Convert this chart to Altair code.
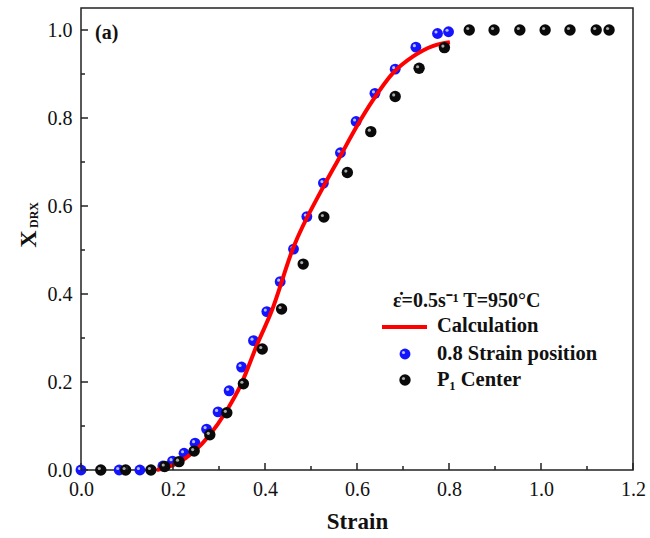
import altair as alt
import pandas as pd

# ---- data ----
blue_x = [0.0, 0.083, 0.128, 0.178, 0.199, 0.224, 0.248, 0.273, 0.298, 0.322, 0.349, 0.375,
          0.404, 0.433, 0.462, 0.491, 0.527, 0.564, 0.598, 0.639, 0.683, 0.728, 0.775, 0.799]
blue_y = [0.0, 0.0, 0.0, 0.009, 0.02, 0.038, 0.061, 0.093, 0.132, 0.18, 0.234, 0.294,
          0.36, 0.428, 0.502, 0.576, 0.652, 0.721, 0.792, 0.856, 0.911, 0.961, 0.992, 0.996]

black_x = [0.043, 0.097, 0.152, 0.182, 0.213, 0.246, 0.28, 0.317, 0.353, 0.394, 0.436, 0.483,
           0.528, 0.579, 0.630, 0.683, 0.735, 0.790, 0.844, 0.898, 0.954, 1.009, 1.063, 1.12, 1.148]
black_y = [0.0, 0.0, 0.0, 0.008, 0.019, 0.043, 0.08, 0.13, 0.196, 0.275, 0.366, 0.468,
           0.575, 0.676, 0.769, 0.849, 0.913, 0.960, 1.0, 1.0, 1.0, 1.0, 1.0, 1.0, 1.0]

calc_x = [0.165, 0.208, 0.246, 0.28, 0.313, 0.349, 0.384, 0.414, 0.461, 0.527, 0.563, 0.599,
          0.635, 0.679, 0.722, 0.766, 0.802]
calc_y = [0.0, 0.015, 0.042, 0.08, 0.129, 0.197, 0.288, 0.36, 0.504, 0.644, 0.712, 0.78,
          0.841, 0.903, 0.94, 0.964, 0.972]

x_major = [0.0, 0.2, 0.4, 0.6, 0.8, 1.0, 1.2]
x_minor = [0.1, 0.3, 0.5, 0.7, 0.9, 1.1]
y_major = [0.0, 0.2, 0.4, 0.6, 0.8, 1.0]
y_minor = [0.1, 0.3, 0.5, 0.7, 0.9]

W, H = 552, 462
SERIF = "Liberation Serif"

xscale = alt.Scale(domain=[0, 1.2], nice=False, zero=False)
yscale = alt.Scale(domain=[0, 1.05], nice=False, zero=False)

blue_df = pd.DataFrame({"x": blue_x, "y": blue_y})
black_df = pd.DataFrame({"x": black_x, "y": black_y})
calc_df = pd.DataFrame({"x": calc_x, "y": calc_y})

xaxis = alt.Axis(values=x_major, format=".1f", ticks=False, domain=False, grid=False,
                 labelFont=SERIF, labelFontSize=20, labelColor="#111", labelPadding=9,
                 labelFlush=False, labelOverlap=False, labelBound=False,
                 title="Strain", titleFont=SERIF, titleFontSize=23, titleFontWeight="bold",
                 titleColor="#111", titleBaseline="middle", titleY=51)
yaxis = alt.Axis(values=y_major, format=".1f", ticks=False, domain=False, grid=False,
                 labelFont=SERIF, labelFontSize=20, labelColor="#111", labelPadding=9,
                 labelFlush=False, labelOverlap=False, labelBound=False, title="")

X = lambda f="x": alt.X(f + ":Q", scale=xscale, axis=xaxis)
Y = lambda f="y": alt.Y(f + ":Q", scale=yscale, axis=yaxis)

blue_pts = alt.Chart(blue_df).mark_point(filled=True, size=118, color="#1414ff", opacity=1).encode(
    x=X(), y=Y())
blue_hl = alt.Chart(blue_df).mark_point(filled=True, size=10, color="#c8d0ff", opacity=0.9,
                                         xOffset=-1.5, yOffset=-1.5).encode(x=X(), y=Y())

calc_line = alt.Chart(calc_df).mark_line(color="#ff0000", strokeWidth=4, interpolate="monotone").encode(
    x=X(), y=Y())

black_pts = alt.Chart(black_df).mark_point(filled=True, size=130, color="#0a0a0a", opacity=1).encode(
    x=X(), y=Y())
black_hl = alt.Chart(black_df).mark_point(filled=True, size=10, color="#bbbbbb", opacity=0.9,
                                           xOffset=-1.5, yOffset=-1.5).encode(x=X(), y=Y())

# inward ticks
def xticks(vals, length):
    return alt.Chart(pd.DataFrame({"x": vals})).mark_rule(color="#222", strokeWidth=1.5).encode(
        x=X(), y=alt.value(H), y2=alt.value(H - length))

def yticks(vals, length):
    return alt.Chart(pd.DataFrame({"y": vals})).mark_rule(color="#222", strokeWidth=1.5).encode(
        y=Y(), x=alt.value(0), x2=alt.value(length))

ticks = [xticks(x_major, 7), xticks(x_minor, 4), yticks(y_major, 7), yticks(y_minor, 4)]

def label(text, x, y, size, angle=0, align="left"):
    return alt.Chart(pd.DataFrame({"t": [text]})).mark_text(
        font=SERIF, fontSize=size, fontWeight="bold", color="#111", align=align,
        baseline="middle", angle=angle).encode(
        x=alt.value(x), y=alt.value(y), text="t:N")

texts = [
    label("(a)", 14, 25, 20),
    label("X", -52, 231, 24, angle=270, align="center"),
    label("DRX", -47, 207, 12, angle=270, align="center"),
    label("ε̇=0.5s⁻¹ T=950°C", 312, 293, 20),
    label("Calculation", 356, 318, 20.5),
    label("0.8 Strain position", 356, 346, 20.5),
    label("P₁ Center", 356, 372, 20.5),
]

leg_line = alt.Chart(pd.DataFrame({"a": [0]})).mark_rule(color="#ff0000", strokeWidth=4).encode(
    x=alt.value(301), x2=alt.value(346), y=alt.value(319))
leg_blue = alt.Chart(pd.DataFrame({"a": [0]})).mark_point(filled=True, size=118, color="#1414ff", opacity=1).encode(
    x=alt.value(324), y=alt.value(346))
leg_blue_hl = alt.Chart(pd.DataFrame({"a": [0]})).mark_point(filled=True, size=10, color="#c8d0ff", opacity=0.9).encode(
    x=alt.value(322.5), y=alt.value(344.5))
leg_black = alt.Chart(pd.DataFrame({"a": [0]})).mark_point(filled=True, size=130, color="#0a0a0a", opacity=1).encode(
    x=alt.value(324), y=alt.value(372))
leg_black_hl = alt.Chart(pd.DataFrame({"a": [0]})).mark_point(filled=True, size=10, color="#bbbbbb", opacity=0.9).encode(
    x=alt.value(322.5), y=alt.value(370.5))

chart = alt.layer(
    blue_pts, blue_hl, calc_line, black_pts, black_hl, *ticks, *texts,
    leg_line, leg_blue, leg_blue_hl, leg_black, leg_black_hl,
).properties(
    width=W, height=H,
    padding={"left": 81, "top": 8, "right": 17, "bottom": 68},
    autosize=alt.AutoSizeParams(type="none"),
).configure_view(stroke="#222", strokeWidth=1.5)

chart.save("out.html", embed_options={"renderer": "svg", "actions": False})
